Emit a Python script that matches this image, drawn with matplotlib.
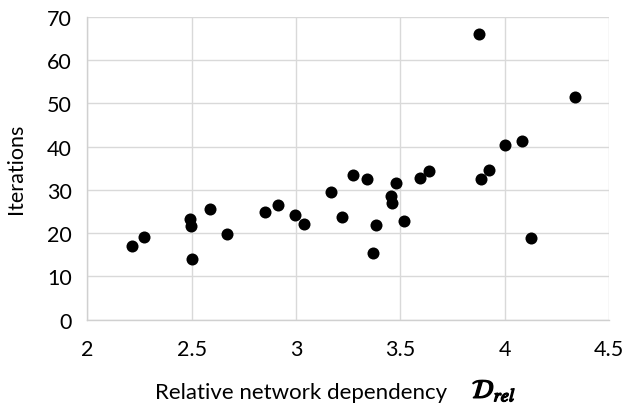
import matplotlib
matplotlib.use("Agg")
import matplotlib.pyplot as plt
import matplotlib.patheffects as pe

# values
d_rel = [2.214, 2.270, 2.493, 2.498, 2.501, 2.590, 2.669, 2.852, 2.914, 2.994,
         3.039, 3.170, 3.219, 3.275, 3.338, 3.369, 3.382, 3.453, 3.462, 3.480,
         3.518, 3.594, 3.639, 3.877, 3.885, 3.925, 4.001, 4.081, 4.125, 4.335]
iterations = [17.0, 19.2, 23.2, 21.7, 14.0, 25.5, 19.9, 24.9, 26.6, 24.2,
              22.1, 29.5, 23.7, 33.4, 32.6, 15.5, 21.8, 28.5, 26.9, 31.6,
              22.8, 32.7, 34.3, 65.9, 32.5, 34.5, 40.3, 41.2, 18.9, 51.4]
x_ticks = [2, 2.5, 3, 3.5, 4, 4.5]
x_tick_labels = ["2", "2.5", "3", "3.5", "4", "4.5"]
y_ticks = [0, 10, 20, 30, 40, 50, 60, 70]

plt.rcParams['font.family'] = ['Lato', 'DejaVu Sans']
plt.rcParams['mathtext.fontset'] = 'stix'

fig = plt.figure(figsize=(6.25, 4.1), dpi=100)
ax = fig.add_axes([0.1398, 0.2178, 0.8346, 0.739])

ax.scatter(d_rel, iterations, s=75, color='black', zorder=3, linewidths=0)

ax.set_xlim(2, 4.5)
ax.set_ylim(0, 70)
ax.set_xticks(x_ticks)
ax.set_xticklabels(x_tick_labels)
ax.set_yticks(y_ticks)
ax.grid(True, color='#d9d9d9', linewidth=1.0, zorder=0)
ax.set_axisbelow(True)

for side in ['top', 'right']:
    ax.spines[side].set_visible(False)
for side in ['left', 'bottom']:
    ax.spines[side].set_color('#d0d0d0')
    ax.spines[side].set_linewidth(1.0)

ax.tick_params(length=0, labelsize=15.5, colors='black')
ax.tick_params(axis='y', pad=11)
ax.tick_params(axis='x', pad=14)

ax.set_ylabel('Iterations', fontsize=15.5)
ax.yaxis.set_label_coords(-0.118, 0.5)

# x label plus the bold math symbol
fig.text(155 / 625, 1 - 399 / 410, 'Relative network dependency', fontsize=16,
         ha='left', va='baseline')
sym = fig.text(472 / 625, 1 - 399 / 410, r'$\mathcal{D}_{rel}$', fontsize=19,
               ha='left', va='baseline')
sym.set_path_effects([pe.withStroke(linewidth=1.0, foreground='black')])

fig.savefig('out.png', dpi=100)
